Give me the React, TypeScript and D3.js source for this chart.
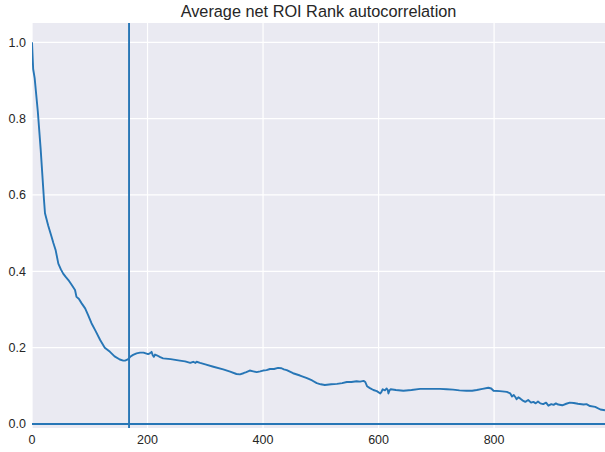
import React from "react";
import * as d3 from "d3";

const title = "Average net ROI Rank autocorrelation";
const lags = [0, 2, 4.6, 10, 15, 20.8, 22.5, 28, 34, 37, 41, 45.6, 50, 54, 58, 63, 68, 74.5, 77, 81, 86, 92, 97, 103, 110, 118, 126, 135, 143, 152, 158, 161, 166, 170, 175, 181, 187, 193, 197, 201, 204, 207, 209, 211, 213, 216, 222, 227, 240, 256, 265, 274, 279, 283, 285, 291, 300, 314, 331, 343, 354, 360, 366, 371, 377, 383, 389, 395, 400, 406, 412, 419, 426, 432, 436, 441, 452, 464, 476, 485, 493, 500, 507, 518, 528, 537, 545, 553, 562, 568, 574, 577, 580, 585, 591, 597, 603, 605, 607, 611, 614, 616, 617, 619, 621, 630, 643, 657, 672, 690, 706, 718, 729, 740, 752, 762, 770, 780, 790, 795, 799, 810, 822, 828, 831, 834, 837, 839, 842, 845, 849, 854, 859, 864, 868, 872, 876, 880, 885, 890, 894, 899, 903, 907, 911, 918, 925, 931, 938, 945, 955, 960, 966, 975, 984, 992];
const acf = [1.0, 0.93, 0.906, 0.82, 0.72, 0.586, 0.552, 0.52, 0.49, 0.474, 0.455, 0.42, 0.405, 0.394, 0.386, 0.377, 0.366, 0.351, 0.333, 0.328, 0.316, 0.303, 0.286, 0.264, 0.244, 0.22, 0.2, 0.189, 0.177, 0.169, 0.166, 0.166, 0.169, 0.176, 0.181, 0.185, 0.187, 0.187, 0.185, 0.183, 0.185, 0.189, 0.18, 0.176, 0.182, 0.18, 0.175, 0.172, 0.17, 0.166, 0.164, 0.16, 0.163, 0.16, 0.163, 0.16, 0.156, 0.15, 0.143, 0.137, 0.131, 0.13, 0.133, 0.136, 0.14, 0.138, 0.136, 0.138, 0.14, 0.141, 0.144, 0.144, 0.147, 0.146, 0.143, 0.141, 0.133, 0.127, 0.12, 0.114, 0.107, 0.104, 0.102, 0.104, 0.105, 0.107, 0.11, 0.11, 0.112, 0.111, 0.113, 0.11, 0.099, 0.094, 0.089, 0.086, 0.08, 0.084, 0.091, 0.088, 0.093, 0.089, 0.08, 0.088, 0.091, 0.089, 0.087, 0.089, 0.092, 0.092, 0.092, 0.091, 0.09, 0.088, 0.087, 0.087, 0.089, 0.092, 0.095, 0.093, 0.087, 0.086, 0.084, 0.08, 0.072, 0.076, 0.07, 0.065, 0.07, 0.067, 0.062, 0.058, 0.063, 0.056, 0.058, 0.054, 0.059, 0.054, 0.052, 0.056, 0.048, 0.052, 0.05, 0.054, 0.051, 0.049, 0.053, 0.056, 0.055, 0.053, 0.051, 0.052, 0.047, 0.045, 0.038, 0.036];
const markerLag = 168;
const xTicks = [0, 200, 400, 600, 800];
const yTicks = [0.0, 0.2, 0.4, 0.6, 0.8, 1.0];

const W = 605;
const H = 452;
const M = { left: 32, right: 605, top: 23, bottom: 428 };
const color = "#2776b6";
const font = "'Liberation Sans', Arial, sans-serif";

export default function App() {
  const x = d3.scaleLinear().domain([0, 992]).range([M.left, M.right]);
  const y = d3.scaleLinear().domain([-0.0105, 1.0505]).range([M.bottom, M.top]);
  const line = d3
    .line<number>()
    .x((_, i) => x(lags[i]))
    .y((d) => y(d));
  return (
    <svg
      width={W}
      height={H}
      style={{ position: "absolute", left: 0, top: 0, background: "#fff" }}
      fontFamily={font}
    >
      <defs>
        <clipPath id="plot">
          <rect x={M.left} y={M.top} width={M.right - M.left} height={M.bottom - M.top} />
        </clipPath>
      </defs>
      <rect x={M.left} y={M.top} width={M.right - M.left} height={M.bottom - M.top} fill="#EAEAF2" />
      {xTicks.map((t) => (
        <line key={"gx" + t} x1={x(t)} x2={x(t)} y1={M.top} y2={M.bottom} stroke="#fff" strokeWidth={1.2} />
      ))}
      {yTicks.map((t) => (
        <line key={"gy" + t} x1={M.left} x2={M.right} y1={y(t)} y2={y(t)} stroke="#fff" strokeWidth={1.2} />
      ))}
      <g clipPath="url(#plot)">
        <path d={line(acf) || ""} fill="none" stroke={color} strokeWidth={1.9} strokeLinejoin="round" />
        <line x1={x(markerLag)} x2={x(markerLag)} y1={M.top} y2={M.bottom} stroke={color} strokeWidth={1.9} />
        <line x1={M.left} x2={M.right} y1={y(0)} y2={y(0)} stroke={color} strokeWidth={1.9} />
      </g>
      {xTicks.map((t) => (
        <text key={"tx" + t} x={x(t)} y={443.5} textAnchor="middle" fontSize={12.5} fill="#262626">
          {t}
        </text>
      ))}
      {yTicks.map((t) => (
        <text key={"ty" + t} x={26} y={y(t) + 4.5} textAnchor="end" fontSize={12.5} fill="#262626">
          {t.toFixed(1)}
        </text>
      ))}
      <text x={(M.left + M.right) / 2} y={16.5} textAnchor="middle" fontSize={16.3} fill="#262626">
        {title}
      </text>
    </svg>
  );
}
